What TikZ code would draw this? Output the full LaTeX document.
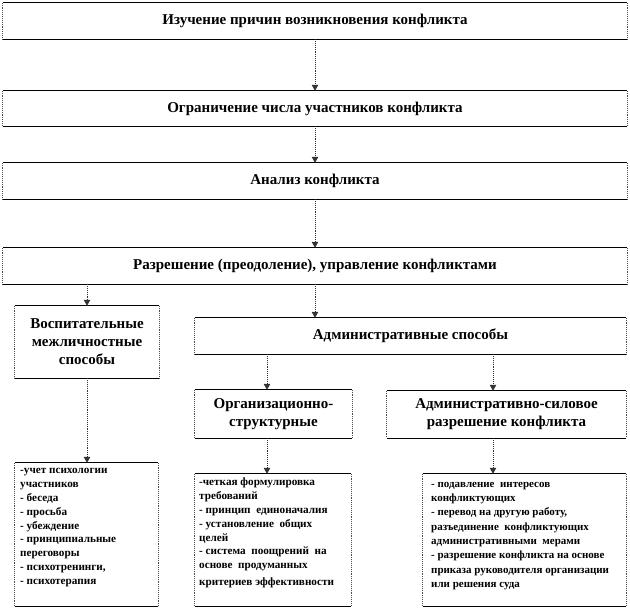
\documentclass[tikz,border=0pt]{standalone}
\usepackage{fontspec}
\setmainfont{Liberation Serif}
\usetikzlibrary{arrows.meta}
\newcommand\boxedges[1]{%
  \draw[hline] (#1.north west) -- (#1.north east) (#1.south west) -- (#1.south east);
  \draw[vline] (#1.north west) -- (#1.south west) (#1.north east) -- (#1.south east);}
\begin{document}
\begin{tikzpicture}[x=1pt,y=-1pt,
  bx/.style={inner sep=0pt, draw=none, align=center, font=\fontsize{15}{18}\selectfont\bfseries},
  lt/.style={inner sep=0pt, align=left, anchor=north west, font=\fontsize{11.2}{13.8}\selectfont\bfseries},
  hline/.style={black, line width=1pt},
  vline/.style={black!70, densely dotted, line width=0.9pt},
  arr/.style={black!80, densely dotted, line width=0.9pt, -{Triangle[length=6pt,width=6.5pt]}}]
\useasboundingbox (0,0) rectangle (630,609);
% boxes
\node[bx, minimum width=624pt, minimum height=36pt] (b1) at (315,21) {Изучение причин возникновения конфликта};
\node[bx, minimum width=624pt, minimum height=35pt] (b2) at (315,108.5) {Ограничение числа участников конфликта};
\node[bx, minimum width=624pt, minimum height=36pt] (b3) at (315,181) {Анализ конфликта};
\node[bx, minimum width=624pt, minimum height=36pt] (b4) at (315,266) {Разрешение (преодоление), управление конфликтами};
\node[bx, minimum width=144pt, minimum height=72pt] (b5) at (87,342) {Воспитательные\\межличностные\\способы};
\node[bx, minimum width=431pt, minimum height=36pt] (b6) at (410.5,336) {Административные способы};
\node[bx, minimum width=157pt, minimum height=48pt] (b7) at (273.5,414) {Организационно-\\структурные};
\node[bx, minimum width=239pt, minimum height=47pt] (b8) at (506.5,414.5) {Административно-силовое\\разрешение конфликта};
\node[bx, minimum width=143pt, minimum height=143pt] (b9) at (86.5,534.5) {};
\node[bx, minimum width=156pt, minimum height=132pt] (b10) at (273,540) {};
\node[bx, minimum width=203pt, minimum height=132pt] (b11) at (524.5,540) {};
\foreach \n in {b1,b2,b3,b4,b5,b6,b7,b8,b9,b10,b11} {\boxedges{\n}}
% list texts
\node[lt] (t9) at (20,468.5) {-учет психологии\\участников\\- беседа\\- просьба\\- убеждение\\- принципиальные\\переговоры\\- психотренинги,\\- психотерапия};
\node[lt] (t10) at (199,478) {-четкая формулировка\\требований\\- принцип\ \ единоначалия\\- установление\ \ общих\\целей\\- система\ \ поощрений\ \ на\\основе\ \ продуманных\\[3pt]критериев эффективности};
\node[lt, font=\fontsize{11}{14.3}\selectfont\bfseries] (t11) at (431,482) {- подавление\ \ интересов\\конфликтующих\\- перевод на другую работу,\\разъединение\ \ конфликтующих\\административными\ \ мерами\\- разрешение конфликта на основе\\приказа руководителя организации\\или решения суда};
% arrow columns
\coordinate (cl) at (267,0);
\coordinate (cr) at (493,0);
% connectors
\draw[arr] (b1.south) -- (b2.north);
\draw[arr] (b2.south) -- (b3.north);
\draw[arr] (b3.south) -- (b4.north);
\draw[arr] (b4.south -| b5.north) -- (b5.north);
\draw[arr] (b4.south) -- (b6.north -| b4.south);
\draw[arr] (b6.south -| cl) -- (b7.north -| cl);
\draw[arr] (b6.south -| cr) -- (b8.north -| cr);
\draw[arr] (b5.south) -- (b9.north -| b5.south);
\draw[arr] (b7.south -| cl) -- (b10.north -| cl);
\draw[arr] (b8.south -| cr) -- (b11.north -| cr);
\end{tikzpicture}
\end{document}
